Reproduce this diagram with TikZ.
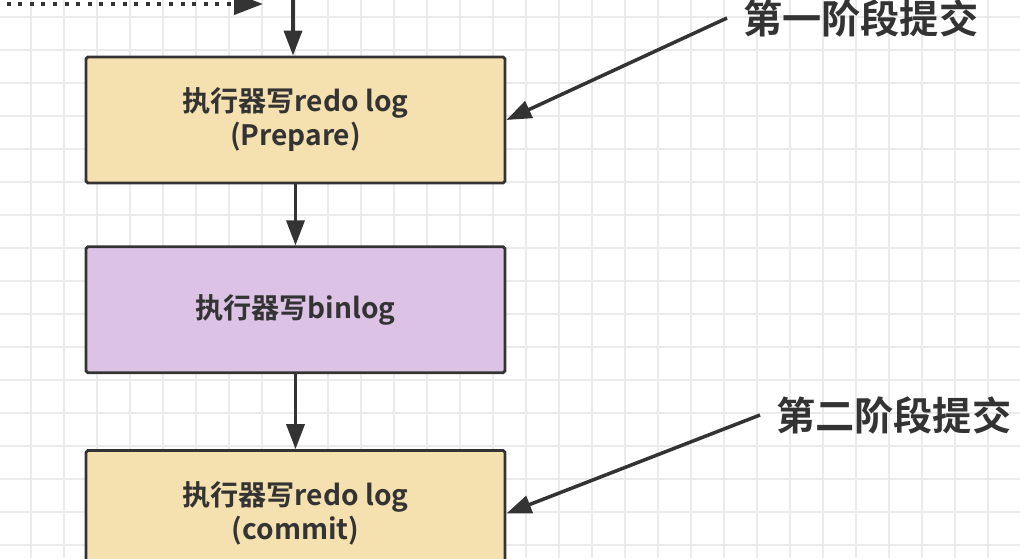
\documentclass[tikz,border=0pt]{standalone}
\usepackage{fontspec}
\setmainfont{Noto Sans CJK SC}[BoldFont={* Bold}]
\usetikzlibrary{positioning, arrows.meta}
\definecolor{wheatbox}{HTML}{F5E1B0}
\definecolor{lilacbox}{HTML}{DCC3E6}
\definecolor{inkgray}{HTML}{333333}
\definecolor{gridgray}{HTML}{EBEBEB}

\begin{document}
\begin{tikzpicture}[
    x=0.02cm, y=-0.02cm,
    node distance=1.22cm,
    block/.style={rectangle, draw=inkgray, line width=1.6pt, fill=wheatbox, text=inkgray, font=\fontsize{16}{19.3}\selectfont\bfseries, align=center, minimum width=8.38cm, minimum height=2.52cm, rounded corners=1pt},
    tag/.style={text=inkgray, font=\fontsize{22.3}{26}\selectfont\bfseries, anchor=west, inner xsep=9pt},
    line/.style={draw=inkgray, line width=2pt, -{Triangle[length=0.5cm, width=0.36cm]}}
]
    \clip (0,0) rectangle (1020,558);
    \fill [white] (0,0) rectangle (1020,558);
    % background grid
    \foreach \gx in {31,64,...,1020} \draw [gridgray, line width=0.6pt] (\gx,0) -- (\gx,558);
    \foreach \gy in {17,50,...,558} \draw [gridgray, line width=0.6pt] (0,\gy) -- (1020,\gy);

    \node [block] (redoprep) at (295.5,120) {执行器写redo log\\(Prepare)};
    \node [block, fill=lilacbox, below=of redoprep] (binlog) {执行器写binlog};
    \node [block, below=1.5cm of binlog] (redocommit) {执行器写redo log\\(commit)};

    \node [tag] (phaseone) at (727,18) {第一阶段提交};
    \node [tag] (phasetwo) at (760,415) {第二阶段提交};

    % incoming flow, cut by the top edge
    \coordinate (entry) at (293,-20);
    \coordinate (feedstart) at (-5,4);
    \coordinate (feedend) at (263,4);

    \path [line] (entry) -- (entry |- redoprep.north);
    \path [line, line width=2.3pt, dash pattern=on 2.3pt off 4.3pt, -{Triangle[length=0.58cm, width=0.42cm]}] (feedstart) -- (feedend);
    \path [line] (redoprep) -- (binlog);
    \path [line] (binlog) -- (redocommit);
    \path [line] (phaseone.west) -- (redoprep.east);
    \path [line] (phasetwo.west) -- (redocommit.east);
\end{tikzpicture}
\end{document}
